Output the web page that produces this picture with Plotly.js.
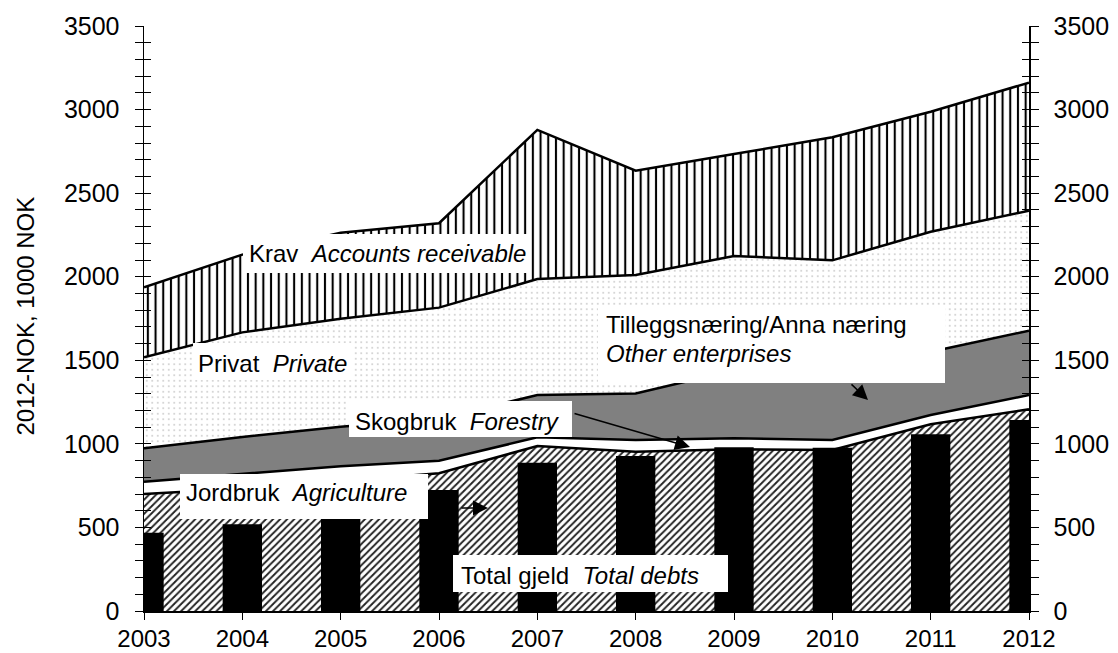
<!DOCTYPE html>
<html>
<head>
<meta charset="utf-8">
<script src="https://cdn.plot.ly/plotly-3.0.1.min.js"></script>
<style>html,body{margin:0;padding:0;background:#fff;}#chart{width:1118px;height:653px;}</style>
</head>
<body>
<div id="chart"></div>
<script>
// ---- data (1000 NOK, 2012-NOK) ----
const years = [2003, 2004, 2005, 2006, 2007, 2008, 2009, 2010, 2011, 2012];
const jordbruk = [700, 733, 778, 824, 987, 953, 967, 963, 1117, 1207];
const skogbruk = [74, 87, 88, 75, 52, 70, 66, 60, 56, 85];
const tillegg  = [199, 221, 237, 251, 253, 279, 407, 427, 378, 385];
const privat   = [545, 626, 646, 665, 694, 708, 684, 648, 718, 718];
const krav     = [419, 465, 514, 505, 892, 624, 610, 736, 718, 766];
const totalDebts = [468, 519, 610, 724, 887, 927, 979, 977, 1057, 1143];
const yTicks = [0, 500, 1000, 1500, 2000, 2500, 3000, 3500];

// ---- layout geometry ----
const W = 1118, H = 653;
const M = {l: 144, r: 89, t: 26, b: 42};
const PW = W - M.l - M.r, PH = H - M.t - M.b;
const px = x => (x - M.l) / PW;
const py = y => (H - M.b - y) / PH;
const FONT = 'Liberation Sans, Arial, sans-serif';

const lineStyle = {color: '#000', width: 2.5};
function area(name, vals, fillpattern, fillcolor) {
  return {
    type: 'scatter', mode: 'lines', name: name, x: years, y: vals,
    stackgroup: 'one', line: lineStyle, fillcolor: fillcolor,
    fillpattern: fillpattern, hoverinfo: 'skip'
  };
}

const traces = [
  area('Jordbruk', jordbruk, {shape: '/', size: 5, solidity: 0.38, fgcolor: '#222', bgcolor: '#fff', fillmode: 'replace'}, '#fff'),
  area('Skogbruk', skogbruk, undefined, '#ffffff'),
  area('Tilleggsnæring', tillegg, undefined, '#808080'),
  area('Privat', privat, {shape: '.', size: 5.5, solidity: 0.05, fgcolor: '#999', bgcolor: '#fff', fillmode: 'replace'}, '#fff'),
  area('Krav', krav, {shape: '|', size: 7.7, solidity: 0.27, fgcolor: '#000', bgcolor: '#fff', fillmode: 'replace'}, '#fff'),
  {
    type: 'bar', name: 'Total gjeld', x: years, y: totalDebts, width: 0.4,
    marker: {color: '#000', line: {width: 0}}, xaxis: 'x', yaxis: 'y2', hoverinfo: 'skip'
  }
];

// white label boxes (pixel rectangles)
const boxes = [
  [243, 234, 530, 273],
  [193, 343, 353, 380],
  [349, 401, 572, 437],
  [598, 307, 945, 383],
  [180, 474, 428, 519],
  [453, 555, 728, 592]
];
const shapes = boxes.map(b => ({
  type: 'rect', xref: 'paper', yref: 'paper', layer: 'above',
  x0: px(b[0]), x1: px(b[2]), y0: py(b[3]), y1: py(b[1]),
  fillcolor: '#fff', line: {width: 0}
}));

const NB = '\u00a0';
const labels = [
  ['Krav' + NB + ' <i>Accounts receivable</i>', 249, 253.5],
  ['Privat' + NB + ' <i>Private</i>', 198, 363.5],
  ['Skogbruk' + NB + ' <i>Forestry</i>', 355, 421],
  ['Tilleggsnæring/Anna næring', 606, 324.5],
  ['<i>Other enterprises</i>', 606, 353.5],
  ['Jordbruk' + NB + ' <i>Agriculture</i>', 186, 492.5],
  ['Total gjeld' + NB + ' <i>Total debts</i>', 461, 575.5]
];
const annotations = labels.map(l => ({
  text: l[0], xref: 'paper', yref: 'paper', x: px(l[1]), y: py(l[2]),
  xanchor: 'left', yanchor: 'middle', showarrow: false,
  borderpad: 0, borderwidth: 0, font: {family: FONT, size: 24, color: '#000'}
}));

// arrows: [tailX, tailY, headX, headY]
const arrows = [
  [573, 413, 690, 447],
  [850, 383, 868, 400],
  [460, 508, 488, 508]
];
arrows.forEach(a => annotations.push({
  text: '', xref: 'paper', yref: 'paper', x: px(a[2]), y: py(a[3]),
  ax: a[0] - a[2], ay: a[1] - a[3], showarrow: true,
  arrowhead: 2, arrowsize: 2, arrowwidth: 1.5, arrowcolor: '#000'
}));

// y axis title
annotations.push({
  text: '2012-NOK, 1000 NOK', xref: 'paper', yref: 'paper',
  x: px(24.5), y: py(316), xanchor: 'center', yanchor: 'middle',
  textangle: -90, showarrow: false, font: {family: FONT, size: 24, color: '#000'}
});

const yCommon = {
  range: [0, 3500], tickmode: 'array', tickvals: yTicks,
  showgrid: false, zeroline: false, showline: true, linecolor: '#000', linewidth: 1.5,
  tickcolor: '#000', tickwidth: 1, mirror: 'ticks',
  tickfont: {family: FONT, size: 25, color: '#000'}, fixedrange: true
};

const layout = {
  width: W, height: H, margin: M,
  paper_bgcolor: '#fff', plot_bgcolor: '#fff', showlegend: false,
  font: {family: FONT, size: 24, color: '#000'},
  xaxis: {
    range: [2003, 2012], tickmode: 'array', tickvals: years,
    ticks: 'outside', ticklen: 7, tickwidth: 1, tickcolor: '#000',
    showline: true, linecolor: '#000', linewidth: 2, showgrid: false, zeroline: false,
    tickfont: {family: FONT, size: 24, color: '#000'}, ticklabelstandoff: -2, fixedrange: true
  },
  yaxis: Object.assign({}, yCommon, {
    side: 'left', ticks: 'outside', ticklen: 8, ticklabelstandoff: 10,
    minor: {ticks: 'outside', dtick: 100, tick0: 0, ticklen: 8, tickcolor: '#000', tickwidth: 1}
  }),
  yaxis2: Object.assign({}, yCommon, {
    side: 'right', overlaying: 'y', anchor: 'x', ticks: 'inside', ticklen: 7, ticklabelstandoff: 18,
    minor: {ticks: 'inside', dtick: 100, tick0: 0, ticklen: 7, tickcolor: '#000', tickwidth: 1}
  }),
  shapes: shapes,
  annotations: annotations
};

Plotly.newPlot('chart', traces, layout, {staticPlot: true, displayModeBar: false});
</script>
</body>
</html>
